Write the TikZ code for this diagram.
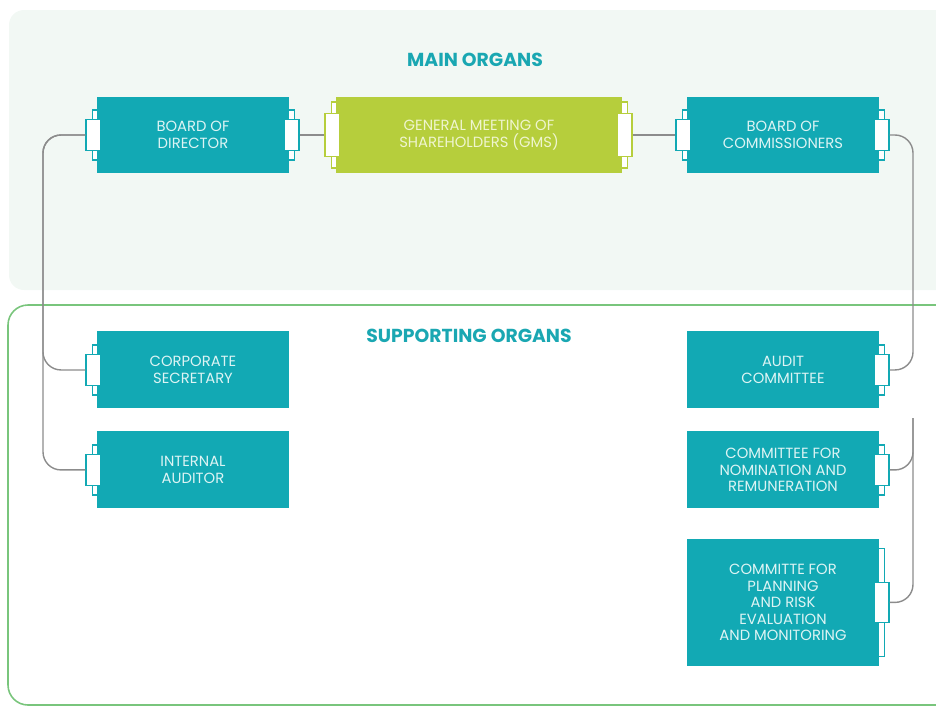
\documentclass[tikz,border=0pt]{standalone}
\usepackage{fontspec}
\setmainfont{Poppins}
\usetikzlibrary{calc,positioning}

\definecolor{orgteal}{HTML}{12A9B4}
\definecolor{orggreen}{HTML}{B6CE3C}
\definecolor{orgtext}{HTML}{DDF4F4}
\definecolor{gmstext}{HTML}{EFF5CF}
\definecolor{headteal}{HTML}{1AA7B2}
\definecolor{mainbg}{HTML}{F2F8F4}
\definecolor{supline}{HTML}{79C57C}
\definecolor{linkgray}{HTML}{8C8C8C}

\tikzstyle{organ} = [rectangle, minimum width=3.84cm, minimum height=1.54cm, text centered, align=center, inner sep=0pt, fill=orgteal, text=orgtext, font=\fontsize{8.4}{9.4}\selectfont]
\tikzstyle{gmsbox} = [organ, minimum width=5.72cm, fill=orggreen, text=gmstext]
\tikzstyle{heading} = [font=\fontsize{10.7}{12}\selectfont\bfseries, text=headteal]
\tikzstyle{tabstrip} = [line width=0.8pt, fill=white]
\tikzstyle{tabbox} = [rectangle, line width=0.8pt, fill=white, minimum width=0.3cm, inner sep=0pt]
\tikzstyle{link} = [draw=linkgray, line width=0.8pt, rounded corners=0.36cm]

% tab on the west / east side of an organ box
\newcommand{\lefttab}[5][orgteal]{%
  \draw[tabstrip, draw=#1] ($(#2.west)+(-4,-#4)$) rectangle ($(#2.west)+(1,#4)$);
  \node[tabbox, draw=#1, minimum height=#5] (#3) at ($(#2.west)+(-3,0)$) {};
}
\newcommand{\righttab}[5][orgteal]{%
  \draw[tabstrip, draw=#1] ($(#2.east)+(-1,-#4)$) rectangle ($(#2.east)+(5,#4)$);
  \node[tabbox, draw=#1, minimum height=#5] (#3) at ($(#2.east)+(2,0)$) {};
}

\begin{document}
\begin{tikzpicture}[x=0.02cm, y=-0.02cm, node distance=2cm]
	\useasboundingbox (0,0) rectangle (936,707);
	\clip (0,0) rectangle (936,707);

	% the two areas
	\fill[mainbg, rounded corners=0.3cm] (9,10) rectangle (980,290);
	\draw[supline, line width=0.9pt, rounded corners=0.4cm] (8,305) rectangle (980,705);

	\node (mainorgans) [heading] at (475,60) {MAIN ORGANS};
	\node (suporgans) [heading] at (469,336) {SUPPORTING ORGANS};

	\coordinate (leftbus) at (43,300);
	\coordinate (rightbus) at (913,300);
	\coordinate (rightbus2) at (913,418);

	\node (director) [organ] at (193,135) {BOARD OF\\DIRECTOR};
	\node (gms) [gmsbox] at (479,135) {GENERAL MEETING OF\\SHAREHOLDERS (GMS)};
	\node (commissioners) [organ] at (783,135) {BOARD OF\\COMMISSIONERS};

	\node (secretary) [organ, below of=director, yshift=-2.7cm] {CORPORATE\\SECRETARY};
	\node (auditor) [organ, below of=secretary] {INTERNAL\\AUDITOR};
	\node (audit) [organ, below of=commissioners, yshift=-2.7cm] {AUDIT\\COMMITTEE};
	\node (nomination) [organ, below of=audit] {COMMITTEE FOR\\NOMINATION AND\\REMUNERATION};
	\node (planning) [organ, minimum height=2.54cm, below of=nomination, yshift=-0.65cm] {COMMITTE FOR\\PLANNING\\AND RISK\\EVALUATION\\AND MONITORING};

	\lefttab{director}{director-l}{25}{0.62cm}
	\righttab{director}{director-r}{25}{0.62cm}
	\lefttab[orggreen]{gms}{gms-l}{33}{0.86cm}
	\righttab[orggreen]{gms}{gms-r}{33}{0.86cm}
	\lefttab{commissioners}{commissioners-l}{25}{0.62cm}
	\righttab{commissioners}{commissioners-r}{25}{0.62cm}
	\lefttab{secretary}{secretary-l}{25}{0.62cm}
	\lefttab{auditor}{auditor-l}{25}{0.62cm}
	\righttab{audit}{audit-r}{25}{0.62cm}
	\righttab{nomination}{nomination-r}{25}{0.62cm}
	\righttab{planning}{planning-r}{54}{0.8cm}

	\draw [link] (director-l.west) -| (leftbus) |- (secretary-l.west);
	\draw [link] (director-l.west) -| (leftbus) |- (auditor-l.west);
	\draw [link] (director-r.east) -- (gms-l.west);
	\draw [link] (gms-r.east) -- (commissioners-l.west);
	\draw [link] (commissioners-r.east) -| (rightbus) |- (audit-r.east);
	\draw [link] (rightbus2) |- (nomination-r.east);
	\draw [link] (rightbus2) |- (planning-r.east);

\end{tikzpicture}
\end{document}
